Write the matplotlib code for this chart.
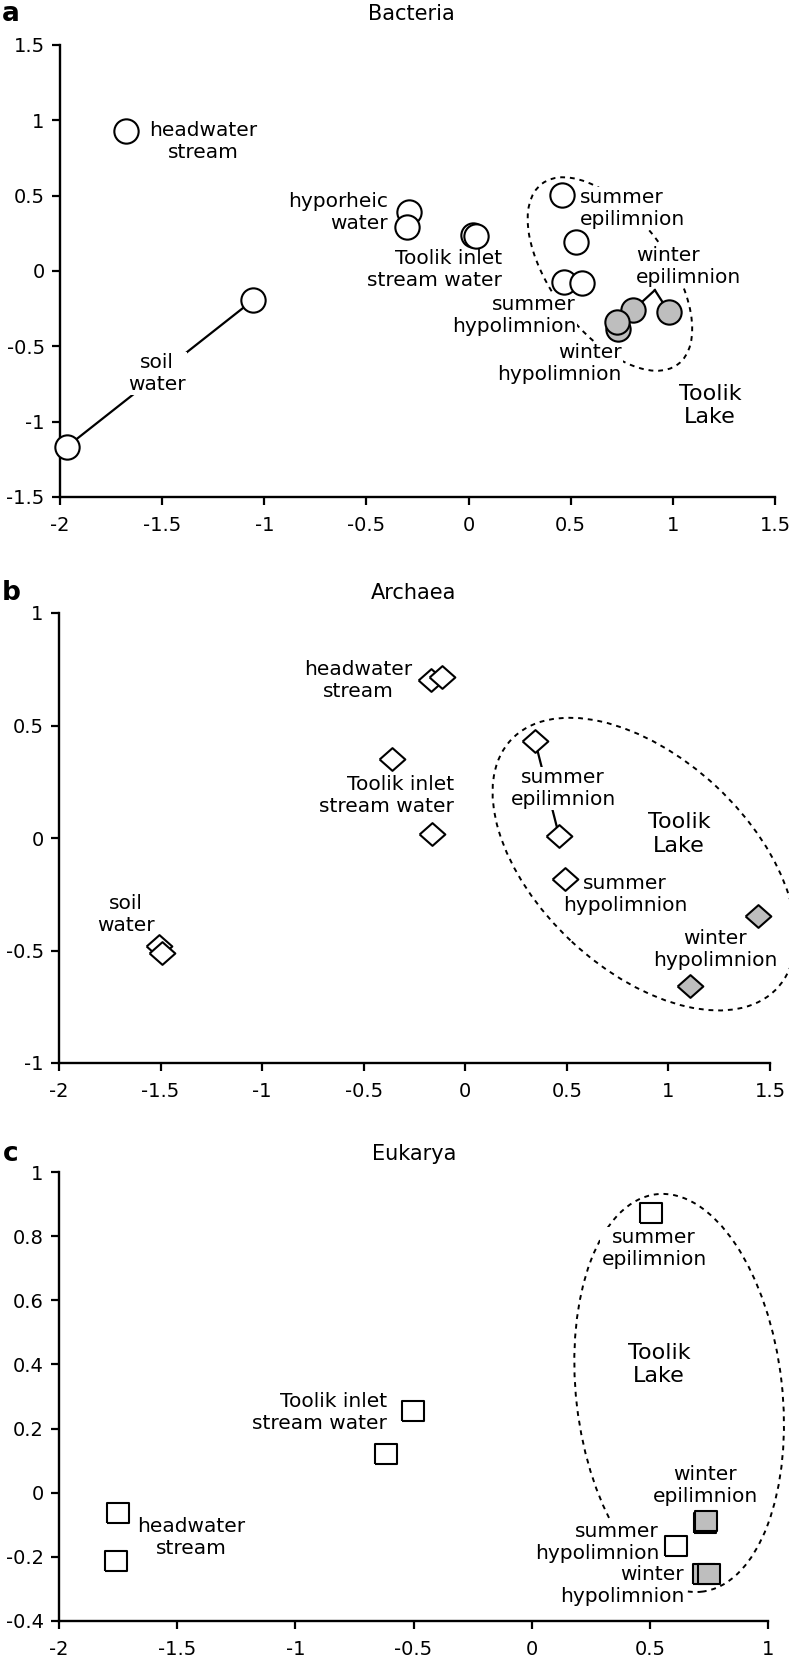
import numpy as np
import matplotlib
matplotlib.use("Agg")
import matplotlib.pyplot as plt
from matplotlib.patches import Ellipse
import matplotlib.transforms as mtransforms

plt.rcParams['font.family'] = ['DejaVu Sans']

W, H = 789, 1662
GRAY = '#bebebe'

# ---------------------------------------- #
#                 Data                     #
# ---------------------------------------- #
# a: Bacteria (circles)
bac_open_x = [-1.677, -1.055, -1.967, -0.292, -0.301, 0.022, 0.036, 0.457, 0.526, 0.467, 0.555]
bac_open_y = [0.927, -0.193, -1.167, 0.393, 0.293, 0.240, 0.235, 0.507, 0.193, -0.073, -0.080]
bac_gray_x = [0.805, 0.981, 0.730, 0.726]
bac_gray_y = [-0.260, -0.273, -0.385, -0.340]
bac_soil_idx = [1, 2]            # soil water pair joined by a line
bac_winter_epi_idx = [0, 1]      # gray points tied to the "winter epilimnion" label
bac_labels = ["headwater\nstream", "soil\nwater", "hyporheic\nwater", "Toolik inlet\nstream water",
              "summer\nepilimnion", "winter\nepilimnion", "summer\nhypolimnion", "winter\nhypolimnion"]
bac_label_x = [-1.300, -1.525, -0.394, 0.163, 0.545, 0.819, 0.526, 0.751]
bac_label_y = [0.860, -0.680, 0.387, 0.013, 0.413, 0.033, -0.293, -0.613]
bac_label_ha = ['center', 'center', 'right', 'right', 'left', 'left', 'right', 'right']
bac_lake_xy = (1.182, -0.895)
bac_epi_anchor = (0.912, -0.127)
bac_ellipse = dict(center=(0.692, -0.02), w=226, h=116, angle=-53)

# b: Archaea (diamonds)
arc_open_x = [-1.508, -1.493, -0.168, -0.114, -0.360, -0.164, 0.344, 0.462, 0.491]
arc_open_y = [-0.482, -0.509, 0.701, 0.714, 0.353, 0.018, 0.429, 0.009, -0.183]
arc_gray_x = [1.442, 1.107]
arc_gray_y = [-0.348, -0.656]
arc_summer_epi_idx = [6, 7]
arc_labels = ["soil\nwater", "headwater\nstream", "Toolik inlet\nstream water", "summer\nepilimnion",
              "summer\nhypolimnion", "winter\nhypolimnion"]
arc_label_x = [-1.670, -0.528, -0.055, 0.482, 0.787, 1.230]
arc_label_y = [-0.339, 0.700, 0.188, 0.219, -0.250, -0.496]
arc_label_ha = ['center', 'center', 'right', 'center', 'center', 'center']
arc_lake_xy = (1.053, 0.018)
arc_ellipse = dict(center=(0.880, -0.116), w=364, h=212, angle=-43)

# c: Eukarya (squares)
euk_open_x = [-1.750, -1.759, -0.616, -0.502, 0.505, 0.611]
euk_open_y = [-0.062, -0.212, 0.121, 0.255, 0.872, -0.165]
euk_gray_x = [0.735, 0.738, 0.730, 0.751]
euk_gray_y = [-0.095, -0.087, -0.252, -0.252]
euk_labels = ["headwater\nstream", "Toolik inlet\nstream water", "summer\nepilimnion",
              "summer\nhypolimnion", "winter\nepilimnion", "winter\nhypolimnion"]
euk_label_x = [-1.441, -0.612, 0.518, 0.539, 0.734, 0.645]
euk_label_y = [-0.140, 0.249, 0.763, -0.156, 0.022, -0.290]
euk_label_ha = ['center', 'right', 'center', 'right', 'center', 'right']
euk_lake_xy = (0.539, 0.400)
euk_ellipse = dict(center=(0.624, 0.311), w=206, h=400, angle=6.5)

# markers stretched a little wider than tall, like the original
diamond = [(-1.13, 0), (0, 1), (1.13, 0), (0, -1), (-1.13, 0)]
square = [(-1.15, -1), (1.15, -1), (1.15, 1), (-1.15, 1), (-1.15, -1)]


# ---------------------------------------- #
#                 Helpers                  #
# ---------------------------------------- #
fig = plt.figure(figsize=(W / 100, H / 100), dpi=100)


def add_axes_px(left, top, right, bottom):
    return fig.add_axes([left / W, 1 - bottom / H, (right - left) / W, (bottom - top) / H])


def style_axes(ax, xlim, ylim, xticks, yticks, ylabels):
    ax.set_xlim(xlim)
    ax.set_ylim(ylim)
    ax.set_xticks(xticks)
    ax.set_xticklabels([f"{t:g}" for t in xticks])
    ax.set_yticks(yticks)
    ax.set_yticklabels(ylabels)
    for s in ['top', 'right']:
        ax.spines[s].set_visible(False)
    for s in ['left', 'bottom']:
        ax.spines[s].set_linewidth(1.7)
    ax.tick_params(direction='out', length=6, width=1.6, labelsize=14)
    ax.tick_params(axis='x', pad=8)
    ax.tick_params(axis='y', pad=5)
    ax.set_facecolor('none')


def put_labels(ax, labels, xs, ys, has):
    for txt, x, y, ha in zip(labels, xs, ys, has):
        ax.text(x, y, txt, ha=ha, va='center', multialignment=ha, fontsize=14.5,
                linespacing=1.2, zorder=2,
                bbox=dict(boxstyle='square,pad=0.05', fc='white', ec='none'))


def put_lake(ax, xy):
    ax.text(xy[0], xy[1], "Toolik\nLake", ha='center', va='center', fontsize=16,
            linespacing=1.2, zorder=2)


def put_ellipse(ax, e):
    trans = mtransforms.ScaledTranslation(e['center'][0], e['center'][1], ax.transData)
    ax.add_patch(Ellipse((0, 0), e['w'], e['h'], angle=e['angle'], transform=trans,
                         fill=False, ec='black', lw=1.4, ls=(0, (2.5, 2.5)), zorder=1,
                         clip_on=False))


def put_points(ax, xs, ys, marker, ms, fc):
    ax.plot(xs, ys, ls='none', marker=marker, ms=ms, mfc=fc, mec='black', mew=1.5,
            zorder=3, clip_on=False)


# ---------------------------------------- #
#              a  Bacteria                 #
# ---------------------------------------- #
ax = add_axes_px(60, 45, 775, 497)
style_axes(ax, (-2, 1.5), (-1.5, 1.5), [-2, -1.5, -1, -0.5, 0, 0.5, 1, 1.5],
           [-1.5, -1, -0.5, 0, 0.5, 1, 1.5], ['-1.5', '-1', '-0.5', '0', '0.5', '1', '1.5'])
put_ellipse(ax, bac_ellipse)
ax.plot([bac_open_x[i] for i in bac_soil_idx], [bac_open_y[i] for i in bac_soil_idx],
        color='black', lw=1.6, zorder=1.5)
for i in bac_winter_epi_idx:
    ax.plot([bac_epi_anchor[0], bac_gray_x[i]], [bac_epi_anchor[1], bac_gray_y[i]],
            color='black', lw=1.6, zorder=1.5)
put_labels(ax, bac_labels, bac_label_x, bac_label_y, bac_label_ha)
put_lake(ax, bac_lake_xy)
put_points(ax, bac_open_x, bac_open_y, 'o', 17.5, 'white')
put_points(ax, bac_gray_x, bac_gray_y, 'o', 17.5, GRAY)

# ---------------------------------------- #
#              b  Archaea                  #
# ---------------------------------------- #
ax = add_axes_px(59, 613, 770, 1063)
style_axes(ax, (-2, 1.5), (-1, 1), [-2, -1.5, -1, -0.5, 0, 0.5, 1, 1.5],
           [-1, -0.5, 0, 0.5, 1], ['-1', '-0.5', '0', '0.5', '1'])
put_ellipse(ax, arc_ellipse)
ax.plot([arc_open_x[i] for i in arc_summer_epi_idx], [arc_open_y[i] for i in arc_summer_epi_idx],
        color='black', lw=1.6, zorder=1.5)
put_labels(ax, arc_labels, arc_label_x, arc_label_y, arc_label_ha)
put_lake(ax, arc_lake_xy)
put_points(ax, arc_open_x, arc_open_y, diamond, 18.5, 'white')
put_points(ax, arc_gray_x, arc_gray_y, diamond, 18.5, GRAY)

# ---------------------------------------- #
#              c  Eukarya                  #
# ---------------------------------------- #
ax = add_axes_px(59, 1172, 768, 1621)
style_axes(ax, (-2, 1), (-0.4, 1), [-2, -1.5, -1, -0.5, 0, 0.5, 1],
           [-0.4, -0.2, 0, 0.2, 0.4, 0.6, 0.8, 1],
           ['-0.4', '-0.2', '0', '0.2', '0.4', '0.6', '0.8', '1'])
put_ellipse(ax, euk_ellipse)
put_labels(ax, euk_labels, euk_label_x, euk_label_y, euk_label_ha)
put_lake(ax, euk_lake_xy)
put_points(ax, euk_open_x, euk_open_y, square, 16.5, 'white')
put_points(ax, euk_gray_x, euk_gray_y, square, 16.5, GRAY)

# ---------------------------------------- #
#           Titles and letters             #
# ---------------------------------------- #
for letter, title, y_px, x_title in [('a', 'Bacteria', 14, 411), ('b', 'Archaea', 593, 414),
                                      ('c', 'Eukarya', 1154, 414)]:
    fig.text(11 / W, 1 - y_px / H, letter, ha='center', va='center', fontsize=19,
             fontweight='bold')
    fig.text(x_title / W, 1 - y_px / H, title, ha='center', va='center', fontsize=15)

fig.savefig('out.png', dpi=100)
